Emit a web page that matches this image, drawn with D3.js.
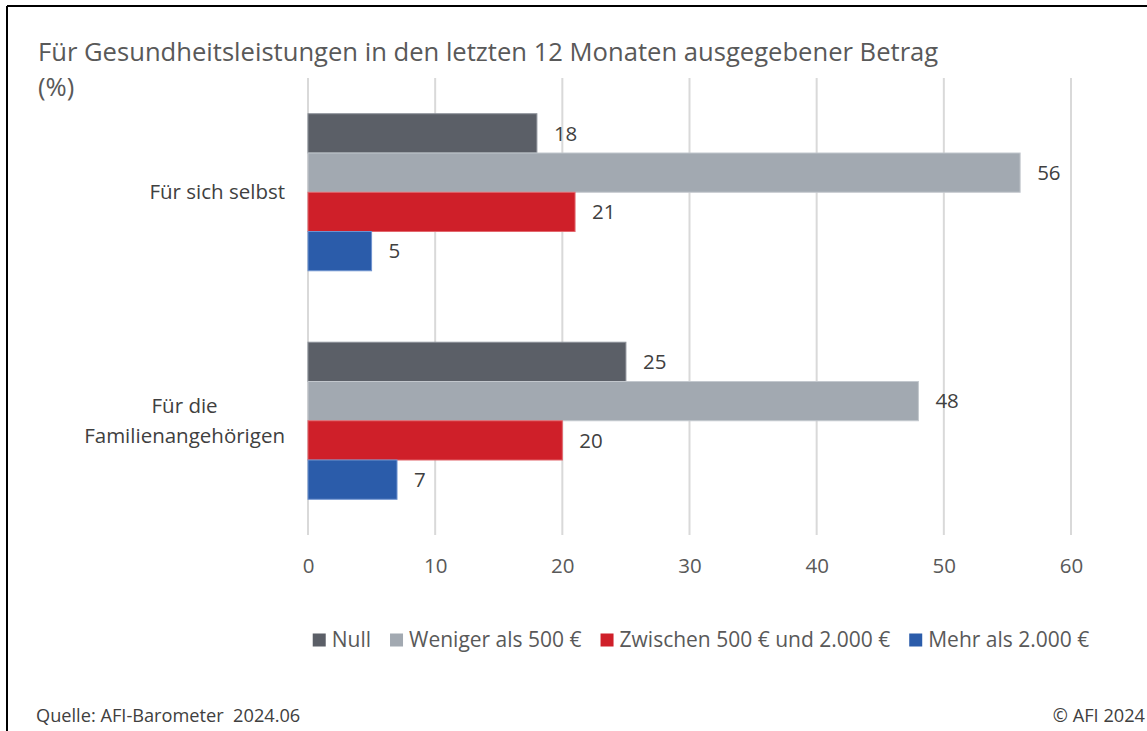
<!DOCTYPE html>
<html lang="de">
<head>
<meta charset="UTF-8">
<title>Gesundheitsleistungen</title>
<script src="https://d3js.org/d3.v7.min.js"></script>
<style>
    body { margin: 0; background: #fff; overflow: hidden; }
    svg { display: block; font-family: "Open Sans", sans-serif; }
</style>
</head>
<body>
<svg width="1147" height="731"></svg>
<script>
    const categories = [["Für sich selbst"], ["Für die", "Familienangehörigen"]];
    const seriesNames = ["Null", "Weniger als 500 €", "Zwischen 500 € und 2.000 €", "Mehr als 2.000 €"];
    const seriesColors = ["#5b5f67", "#a2a9b1", "#cf1f29", "#2b5caa"];
    const seriesStroke = ["#8c9199", "#c3c8ce", "#e2676d", "#6f93cf"];
    // values per category, in series order
    const values = [
        [18, 56, 21, 5],
        [25, 48, 20, 7]
    ];
    const xTicks = [0, 10, 20, 30, 40, 50, 60];

    const svg = d3.select("svg");

    // frame (only left and top edges visible)
    svg.append("line").attr("x1", 7).attr("y1", 6).attr("x2", 1147).attr("y2", 6)
        .attr("stroke", "#000").attr("stroke-width", 2);
    svg.append("line").attr("x1", 7).attr("y1", 6).attr("x2", 7).attr("y2", 731)
        .attr("stroke", "#000").attr("stroke-width", 2);

    // title
    const title = svg.append("text").attr("x", 38).attr("y", 61)
        .attr("fill", "#595959").style("font-size", "25.6px");
    title.append("tspan").attr("x", 38).attr("y", 61)
        .text("Für Gesundheitsleistungen in den letzten 12 Monaten ausgegebener Betrag");
    title.append("tspan").attr("x", 38).attr("y", 96).text("(%)");

    const x = d3.scaleLinear().domain([0, 60]).range([308, 1071]);
    const y = d3.scaleBand().domain(d3.range(categories.length)).range([78, 535]).paddingInner(0).paddingOuter(0);
    const inner = d3.scaleBand().domain(d3.range(seriesNames.length))
        .range([0, y.bandwidth()]).paddingOuter(0.91).paddingInner(0);

    // gridlines
    svg.append("g").selectAll("line").data(xTicks).join("line")
        .attr("x1", d => x(d)).attr("x2", d => x(d))
        .attr("y1", 78).attr("y2", 535)
        .attr("stroke", "#d9d9d9").attr("stroke-width", 2);

    // x axis labels
    const axis = d3.axisBottom(x).tickValues(xTicks).tickSize(0).tickPadding(0);
    const gx = svg.append("g").attr("transform", "translate(0,558)").call(axis);
    gx.select(".domain").remove();
    gx.selectAll("text").attr("fill", "#595959").style("font-size", "20.5px")
        .style("font-family", "'Open Sans', sans-serif");

    // bars
    const groups = svg.append("g").selectAll("g").data(values).join("g")
        .attr("transform", (d, i) => `translate(0,${y(i)})`);

    groups.selectAll("rect").data(d => d).join("rect")
        .attr("x", x(0))
        .attr("y", (d, j) => inner(j))
        .attr("width", d => x(d) - x(0))
        .attr("height", inner.bandwidth())
        .attr("fill", (d, j) => seriesColors[j])
        .attr("stroke", (d, j) => seriesStroke[j])
        .attr("stroke-width", 1);

    groups.selectAll("text").data(d => d).join("text")
        .attr("x", d => x(d) + 17)
        .attr("y", (d, j) => inner(j) + inner.bandwidth() / 2)
        .attr("dy", "0.35em")
        .attr("fill", "#404040").style("font-size", "20.5px")
        .text(d => d);

    // category labels
    categories.forEach((lines, i) => {
        const cy = y(i) + y.bandwidth() / 2;
        const t = svg.append("text").attr("fill", "#404040").style("font-size", "20.5px")
            .attr("text-anchor", "middle");
        const lh = 30;
        lines.forEach((l, k) => {
            t.append("tspan").attr("y", cy + (k - (lines.length - 1) / 2) * lh).attr("dy", "0.35em").text(l);
        });
        let maxW = 0;
        t.selectAll("tspan").each(function () { maxW = Math.max(maxW, this.getComputedTextLength()); });
        t.selectAll("tspan").attr("x", 285 - maxW / 2);
    });

    // legend
    const legend = svg.append("g").attr("transform", "translate(0,640)");
    let lx = 0;
    seriesNames.forEach((name, j) => {
        const g = legend.append("g");
        g.append("rect").attr("x", 0).attr("y", -6.5).attr("width", 13).attr("height", 13)
            .attr("fill", seriesColors[j]);
        const t = g.append("text").attr("x", 19).attr("dy", "0.35em")
            .attr("fill", "#595959").style("font-size", "21px").text(name);
        const w = 19 + t.node().getComputedTextLength();
        g.attr("transform", `translate(${lx},0)`);
        lx += w + 19;
    });
    const totalW = lx - 19;
    legend.attr("transform", `translate(${701 - totalW / 2},640)`);

    // footer
    svg.append("text").attr("x", 36).attr("y", 722).attr("fill", "#404040")
        .attr("xml:space", "preserve")
        .style("font-size", "18.2px").text("Quelle: AFI-Barometer  2024.06");
    svg.append("text").attr("x", 1145).attr("y", 722).attr("text-anchor", "end")
        .attr("fill", "#404040").style("font-size", "18.2px").text("© AFI 2024");
</script>
</body>
</html>
